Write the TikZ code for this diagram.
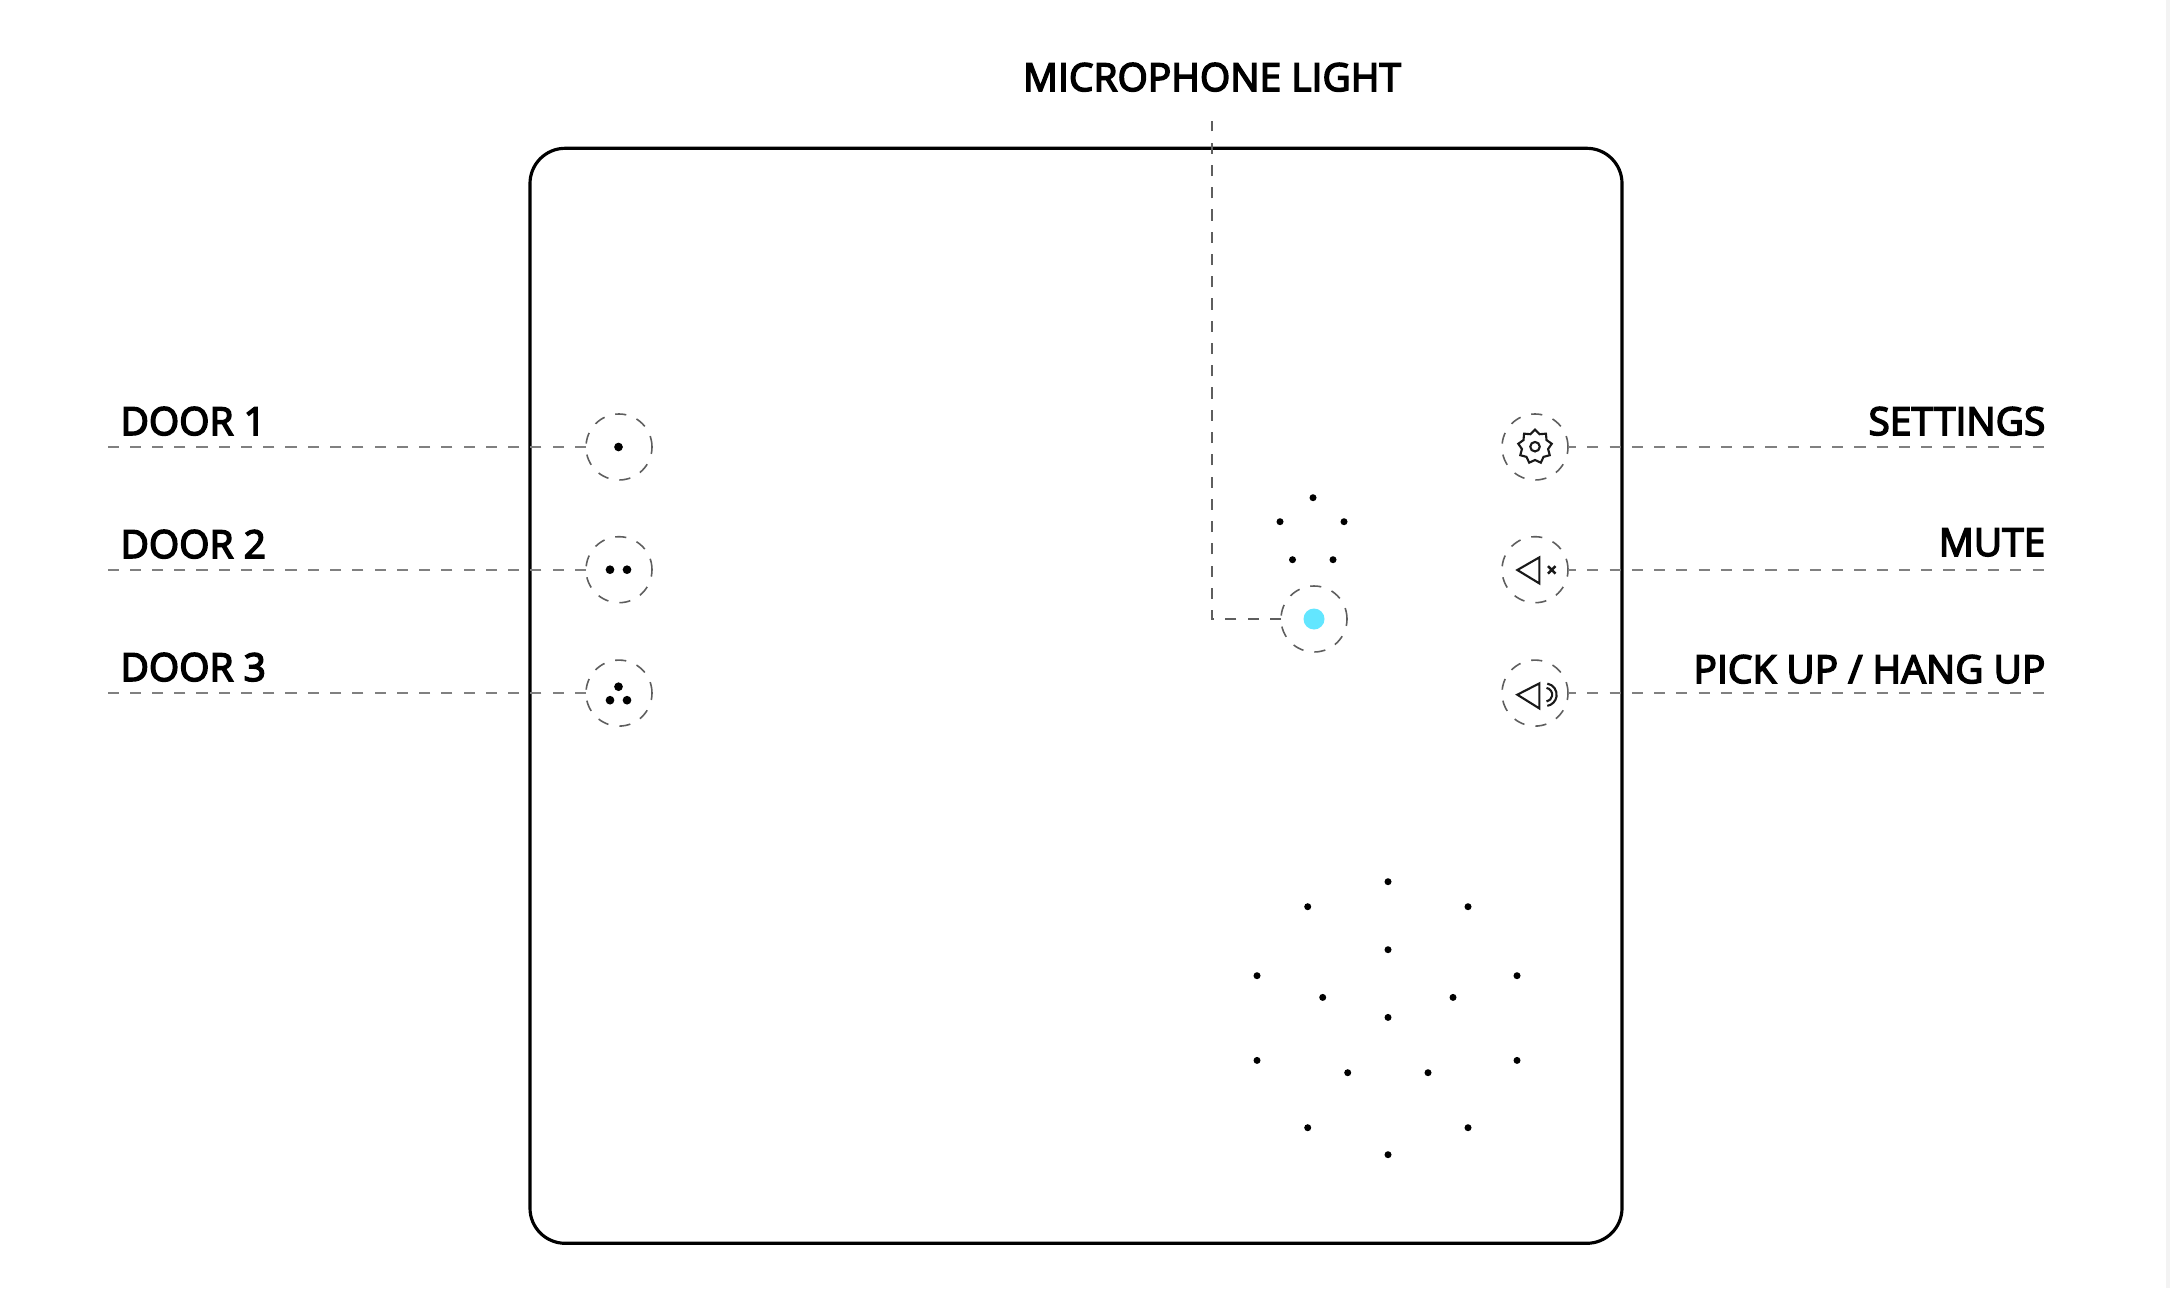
\documentclass[tikz,border=0pt]{standalone}
\usepackage{fontspec}
\setmainfont{Open Sans}
\newfontfamily\lblfont[FakeBold=4,LetterSpace=0.4]{Open Sans}
\usetikzlibrary{positioning,shapes.geometric}
\definecolor{leadgray}{HTML}{5E5E5E}
\definecolor{hleadgray}{HTML}{808080}
\definecolor{micblue}{HTML}{63E6FF}
\definecolor{edgegray}{HTML}{F3F3F3}
\newlength{\pxu}
\setlength{\pxu}{0.01cm}
\tikzset{
  housing/.style={rectangle, draw=black, line width=0.9pt, rounded corners=10pt, fill=white,
                  minimum width=1092\pxu, minimum height=1095\pxu, inner sep=0pt},
  btn/.style={circle, draw=leadgray, line width=0.45pt, dash pattern=on 3.17pt off 3.16pt,
              minimum size=66\pxu, inner sep=0pt, outer sep=0pt, fill=white},
  lead/.style={draw=leadgray, line width=0.45pt, dash pattern=on 3.17pt off 3.16pt},
  leadl/.style={lead, draw=hleadgray, line width=0.65pt},
  leadr/.style={leadl, dash phase=0.85pt},
  lbl/.style={font=\fontsize{11pt}{13pt}\lblfont, inner sep=0pt, text=black},
  bigdot/.style={circle, fill=black, inner sep=0pt, minimum size=8.7\pxu},
  holedot/.style={circle, fill=black, inner sep=0pt, minimum size=7\pxu},
  icon/.style={line width=0.6pt, line join=miter, draw=black!90},
}
\begin{document}
\begin{tikzpicture}[x=0.01cm,y=-0.01cm]
\useasboundingbox (0,0) rectangle (2170,1288);
\fill[edgegray] (2166,0) rectangle (2170,1288);
\node[housing] (box) at (1076,695.8) {};
% leader ends
\coordinate (d1end) at (108,447);
\coordinate (d2end) at (108,569.7);
\coordinate (d3end) at (108,693.1);
\coordinate (s1end) at (2046,447);
\coordinate (s2end) at (2046,569.7);
\coordinate (s3end) at (2046,693.1);
\coordinate (micend) at (1212,121);
\coordinate (micbend) at (1212,619);
% buttons
\node[btn] (door1) at (619,447) {};
\node[btn] (door2) at (619,569.7) {};
\node[btn] (door3) at (619,693.1) {};
\node[btn] (settings) at (1535,447) {};
\node[btn] (mute) at (1535,569.7) {};
\node[btn] (pickup) at (1535,693.1) {};
\node[btn] (mic) at (1314,619) {};
\node[circle, fill=micblue, inner sep=0pt, minimum size=21\pxu] (miclight) at (1314,619) {};
\draw[leadl] (door1) -- (d1end);
\draw[leadl] (door2) -- (d2end);
\draw[leadl] (door3) -- (d3end);
\draw[leadr] (settings) -- (s1end);
\draw[leadr] (mute) -- (s2end);
\draw[leadr] (pickup) -- (s3end);
\draw[lead] (mic) -- (micbend) -- (micend);
% labels
\node[lbl, anchor=base west] (door1lbl) at (120,435) {DOOR 1};
\node[lbl, anchor=base west] (door2lbl) at (120,558) {DOOR 2};
\node[lbl, anchor=base west] (door3lbl) at (120,681) {DOOR 3};
\node[lbl, anchor=base east] (setlbl) at (2046,435) {SETTINGS};
\node[lbl, anchor=base east] (mutelbl) at (2046,556) {MUTE};
\node[lbl, anchor=base east] (pickuplbl) at (2046,683) {PICK UP / HANG UP};
\node[lbl, anchor=base] (miclbl) at (1212,91) {MICROPHONE LIGHT};
% door dots
\node[bigdot] (d1a) at (618.5,447) {};
\node[bigdot] (d2a) at (610,569.7) {};
\node[bigdot] (d2b) at (627,569.7) {};
\node[bigdot] (d3a) at (618.5,686.7) {};
\node[bigdot] (d3b) at (610,700.2) {};
\node[bigdot] (d3c) at (627,700.2) {};
% icons
\node[star, star points=9, star point ratio=1.28, draw=black!90, line width=0.6pt, minimum size=34\pxu, inner sep=0pt] (gear) at (1535,446.7) {};
\node[circle, draw=black!90, line width=0.6pt, minimum size=9.5\pxu, inner sep=0pt] (gearhub) at (1535,446.7) {};
\draw[icon] (1517.3,570) -- (1539.3,557.4) -- (1539.3,583.4) -- cycle;
\draw[icon, line width=0.7pt] (1548,566.2) -- (1555.5,573.7) (1555.5,566.2) -- (1548,573.7);
\draw[icon] (1517.3,694.7) -- (1539.3,683.4) -- (1539.3,708.4) -- cycle;
\draw[icon] (1546.5,687.9) arc[start angle=-80, end angle=80, radius=6.9];
\draw[icon] (1547.3,683.6) arc[start angle=-80, end angle=80, radius=11.3];
% mic dots
\foreach \n/\px/\py in {a/1313/497.7,b/1280/521.7,c/1344/521.7,d/1292.5/559.7,e/1333/559.7}
  \node[holedot] (mic\n) at (\px,\py) {};
% speaker dots
\foreach \n/\px/\py in {a/1388/881.7,b/1307.7/906.7,c/1468/906.7,d/1388/949.7,e/1257/975.7,f/1517/975.7,
  g/1322.7/997.4,h/1453/997.4,i/1388/1017.4,j/1257/1060.4,k/1517/1060.4,l/1347.7/1072.7,m/1428/1072.7,
  n/1307.7/1127.7,o/1468/1127.7,p/1388/1154.7}
  \node[holedot] (spk\n) at (\px,\py) {};
\end{tikzpicture}
\end{document}
